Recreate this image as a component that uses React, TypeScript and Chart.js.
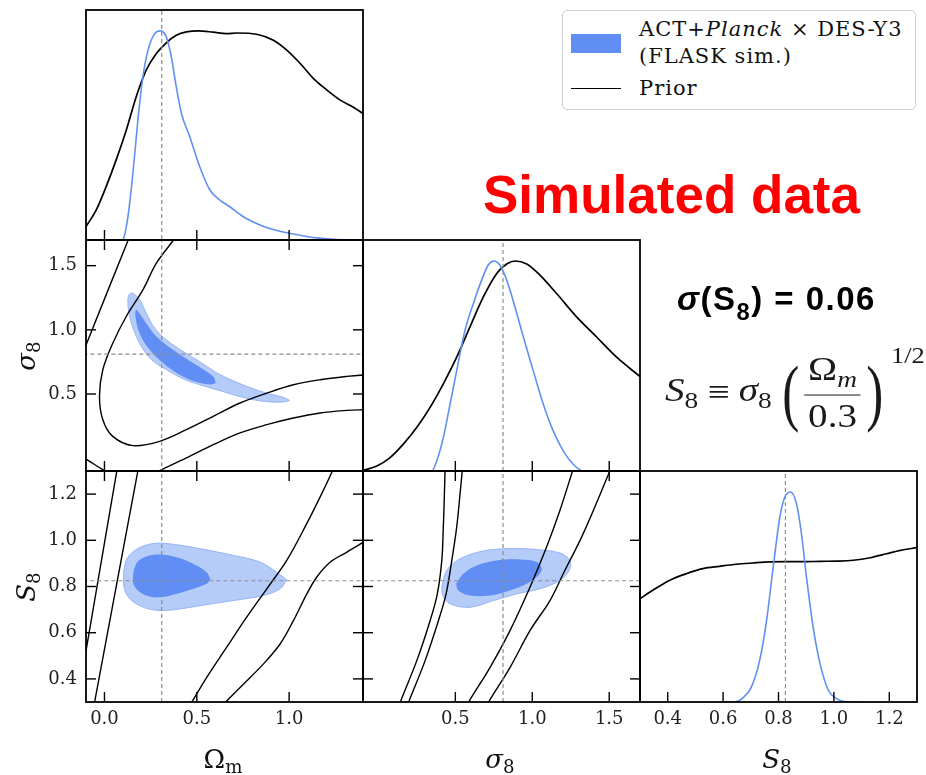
import React, { useEffect, useRef } from "react";
import { Chart, registerables } from "chart.js";

Chart.register(...registerables);

type P = [number, number];

// ---------- axes ----------
const OMEGA_RANGE: P = [-0.1, 1.4];
const SIGMA8_RANGE: P = [-0.1, 1.7];
const S8_RANGE: P = [0.3, 1.3];
const PDF_RANGE: P = [0, 1.1];
const OMEGA_TICKS = [0.0, 0.5, 1.0];
const SIGMA8_TICKS = [0.5, 1.0, 1.5];
const S8_TICKS = [0.4, 0.6, 0.8, 1.0, 1.2];
const FID_OMEGA = 0.31;
const FID_SIGMA8 = 0.81;
const FID_S8 = 0.825;

// ---------- 1D marginals (value, normalised density) ----------
const omegaSim: P[] = [
  [-0.1, 0], [0.09, 0], [0.1, 0.003], [0.127, 0.111], [0.154, 0.318], [0.181, 0.573], [0.208, 0.78],
  [0.236, 0.908], [0.272, 0.987], [0.304, 1.0], [0.335, 0.971], [0.362, 0.876], [0.389, 0.732],
  [0.417, 0.605], [0.462, 0.494], [0.516, 0.35], [0.571, 0.239], [0.625, 0.191], [0.679, 0.159],
  [0.752, 0.111], [0.842, 0.072], [0.933, 0.045], [1.023, 0.029], [1.15, 0.01], [1.24, 0.003], [1.4, 0],
];
const omegaPrior: P[] = [
  [-0.1, 0.064], [-0.045, 0.143], [0.009, 0.255], [0.063, 0.382], [0.118, 0.525], [0.172, 0.685],
  [0.226, 0.812], [0.281, 0.892], [0.335, 0.943], [0.389, 0.979], [0.444, 0.995], [0.507, 1.0],
  [0.589, 0.994], [0.661, 0.987], [0.716, 0.99], [0.824, 0.984], [0.915, 0.955], [0.987, 0.908],
  [1.06, 0.844], [1.132, 0.772], [1.205, 0.717], [1.277, 0.669], [1.35, 0.634], [1.4, 0.605],
];
const sigma8Sim: P[] = [
  [0.25, 0], [0.347, 0], [0.379, 0.048], [0.422, 0.159], [0.466, 0.319], [0.509, 0.478], [0.563, 0.67],
  [0.617, 0.797], [0.671, 0.909], [0.714, 0.981], [0.751, 1.0], [0.79, 0.98], [0.834, 0.909],
  [0.888, 0.78], [0.942, 0.638], [1.006, 0.478], [1.071, 0.319], [1.136, 0.191], [1.201, 0.096],
  [1.266, 0.032], [1.331, 0], [1.45, 0],
];
const sigma8Prior: P[] = [
  [-0.1, 0.003], [-0.01, 0.024], [0.076, 0.064], [0.162, 0.128], [0.249, 0.207], [0.336, 0.303],
  [0.422, 0.415], [0.509, 0.542], [0.595, 0.686], [0.682, 0.829], [0.769, 0.941], [0.834, 0.986],
  [0.888, 1.0], [0.964, 0.986], [1.05, 0.933], [1.158, 0.845], [1.288, 0.734], [1.418, 0.638],
  [1.548, 0.542], [1.7, 0.45],
];
const s8Sim: P[] = [
  [0.6, 0], [0.636, 0], [0.672, 0.02], [0.702, 0.071], [0.732, 0.198], [0.757, 0.389], [0.781, 0.643],
  [0.805, 0.881], [0.823, 0.976], [0.843, 1.0], [0.865, 0.944], [0.883, 0.8], [0.901, 0.595],
  [0.925, 0.357], [0.95, 0.183], [0.98, 0.056], [1.01, 0.016], [1.046, 0], [1.1, 0],
];
const s8Prior: P[] = [
  [0.3, 0.492], [0.346, 0.532], [0.406, 0.579], [0.467, 0.611], [0.527, 0.635], [0.587, 0.646],
  [0.648, 0.656], [0.708, 0.662], [0.768, 0.667], [0.829, 0.668], [0.889, 0.668], [0.95, 0.67],
  [1.01, 0.671], [1.07, 0.675], [1.131, 0.687], [1.19, 0.706], [1.24, 0.722], [1.3, 0.735],
];

// ---------- 2D: sigma8 vs Omega_m ----------
const omSigOuter: P[] = [
  [1.002, 0.45], [0.969, 0.438], [0.879, 0.44], [0.788, 0.461], [0.697, 0.495], [0.607, 0.534],
  [0.516, 0.572], [0.426, 0.618], [0.335, 0.69], [0.255, 0.767], [0.2, 0.87], [0.158, 1.0],
  [0.133, 1.13], [0.127, 1.233], [0.136, 1.28], [0.154, 1.285], [0.195, 1.225], [0.226, 1.13],
  [0.272, 1.013], [0.335, 0.922], [0.426, 0.831], [0.516, 0.752], [0.607, 0.666], [0.697, 0.603],
  [0.788, 0.55], [0.879, 0.506], [0.969, 0.474],
];
const omSigInner: P[] = [
  [0.603, 0.585], [0.571, 0.574], [0.48, 0.602], [0.389, 0.666], [0.317, 0.741], [0.245, 0.844],
  [0.19, 0.974], [0.168, 1.104], [0.172, 1.156], [0.226, 1.052], [0.281, 0.948], [0.371, 0.844],
  [0.48, 0.741], [0.589, 0.637],
];
const omSigPriorA: P[] = [[-0.15, 0.69], [-0.103, 0.87], [0.127, 1.694], [0.16, 1.81]];
const omSigPriorB: P[] = [
  [0.42, 1.79], [0.371, 1.694], [0.281, 1.519], [0.208, 1.311], [0.118, 1.104], [0.045, 0.896],
  [-0.009, 0.689], [-0.027, 0.481], [-0.009, 0.3], [0.045, 0.17], [0.154, 0.098], [0.299, 0.131],
  [0.444, 0.222], [0.589, 0.326], [0.734, 0.43], [0.879, 0.507], [1.023, 0.572], [1.168, 0.611],
  [1.313, 0.637], [1.404, 0.648], [1.45, 0.65],
];
const omSigPriorC: P[] = [
  [0.24, -0.137], [0.31, -0.089], [0.444, 0.002], [0.589, 0.105], [0.734, 0.197], [0.879, 0.261],
  [1.023, 0.313], [1.168, 0.352], [1.313, 0.372], [1.404, 0.378], [1.45, 0.38],
];
const omSigPriorD: P[] = [[-0.15, 0.03], [-0.103, -0.005], [-0.009, -0.09], [0.03, -0.12]];

// ---------- 2D: S8 vs Omega_m ----------
const omS8Outer: P[] = [
  [0.987, 0.829], [0.951, 0.79], [0.86, 0.761], [0.697, 0.739], [0.516, 0.717], [0.371, 0.699],
  [0.263, 0.699], [0.172, 0.725], [0.118, 0.768], [0.103, 0.826], [0.118, 0.913], [0.172, 0.96],
  [0.263, 0.986], [0.371, 0.983], [0.516, 0.964], [0.697, 0.935], [0.842, 0.906], [0.933, 0.862],
];
const omS8Inner: P[] = [
  [0.574, 0.833], [0.553, 0.812], [0.48, 0.79], [0.389, 0.768], [0.299, 0.753], [0.226, 0.761],
  [0.172, 0.79], [0.154, 0.826], [0.172, 0.899], [0.226, 0.93], [0.299, 0.939], [0.389, 0.927],
  [0.48, 0.899], [0.553, 0.862],
];
const omS8Prior1: P[] = [[-0.15, 0.288], [-0.103, 0.507], [0.067, 1.301], [0.08, 1.362]];
const omS8Prior2: P[] = [[-0.07, 0.23], [-0.054, 0.297], [0.181, 1.301], [0.2, 1.38]];
const omS8Prior3: P[] = [
  [0.44, 0.256], [0.471, 0.297], [0.553, 0.406], [0.661, 0.536], [0.77, 0.667], [0.879, 0.79],
  [0.987, 0.913], [1.096, 1.073], [1.168, 1.188], [1.232, 1.297], [1.25, 1.34],
];
const omS8Prior4: P[] = [
  [0.6, 0.255], [0.652, 0.297], [0.752, 0.377], [0.86, 0.464], [0.951, 0.551], [1.023, 0.652],
  [1.096, 0.768], [1.15, 0.841], [1.223, 0.906], [1.313, 0.949], [1.404, 0.993], [1.45, 1.02],
];

// ---------- 2D: S8 vs sigma8 ----------
const sigS8Outer: P[] = [
  [0.412, 0.797], [0.444, 0.87], [0.531, 0.92], [0.682, 0.954], [0.855, 0.964], [1.029, 0.96],
  [1.18, 0.945], [1.245, 0.913], [1.24, 0.87], [1.18, 0.826], [1.05, 0.79], [0.899, 0.768],
  [0.747, 0.739], [0.595, 0.71], [0.466, 0.725], [0.418, 0.761],
];
const sigS8Inner: P[] = [
  [0.505, 0.812], [0.552, 0.855], [0.639, 0.891], [0.769, 0.913], [0.92, 0.917], [1.029, 0.906],
  [1.061, 0.877], [1.039, 0.848], [0.964, 0.812], [0.855, 0.783], [0.725, 0.761], [0.595, 0.761],
  [0.519, 0.783],
];
const sigS8Prior1: P[] = [
  [0.12, 0.25], [0.141, 0.297], [0.249, 0.478], [0.336, 0.652], [0.383, 0.768], [0.412, 0.913],
  [0.422, 1.058], [0.429, 1.203], [0.433, 1.301], [0.434, 1.35],
];
const sigS8Prior2: P[] = [
  [0.17, 0.25], [0.195, 0.297], [0.303, 0.478], [0.39, 0.652], [0.44, 0.768], [0.477, 0.913],
  [0.509, 1.058], [0.531, 1.203], [0.545, 1.301], [0.552, 1.35],
];
const sigS8Prior3: P[] = [
  [0.55, 0.25], [0.584, 0.297], [0.725, 0.449], [0.855, 0.609], [0.985, 0.797], [1.093, 0.971],
  [1.18, 1.13], [1.262, 1.301], [1.285, 1.35],
];
const sigS8Prior4: P[] = [
  [0.68, 0.25], [0.714, 0.297], [0.855, 0.449], [0.985, 0.609], [1.115, 0.739], [1.201, 0.855],
  [1.331, 1.029], [1.505, 1.301], [1.53, 1.34],
];

// ---------- styling / layout ----------
const W = 926;
const H = 775;
const COLS = [86, 363, 640, 917];
const ROWS = [10, 240, 471, 702];
const Y_AXIS_W = 70;
const X_AXIS_H = 40;

const BLUE_LINE = "rgb(98,144,240)";
const INNER = "rgb(96,142,244)";
const OUTER = "rgb(181,203,248)";
const OUTER_EDGE = "rgb(150,180,246)";
const FID = "#8c8c8c";
const TICK_FONT = { family: "'DejaVu Serif', serif", size: 18 };

const xy = (pts: P[]) => pts.map(([x, y]) => ({ x, y }));

function curve(pts: P[], color: string, width: number, order: number, monotone = false) {
  return {
    data: xy(pts),
    showLine: true,
    borderColor: color,
    backgroundColor: color,
    borderWidth: width,
    pointRadius: 0,
    pointHoverRadius: 0,
    fill: false,
    tension: monotone ? 0 : 0.35,
    cubicInterpolationMode: monotone ? "monotone" : "default",
    order,
    clip: 0,
  };
}

function region(pts: P[], color: string, edge: string | null, order: number) {
  return {
    data: xy([...pts, pts[0]]),
    showLine: true,
    fill: "shape",
    backgroundColor: color,
    borderColor: edge || color,
    borderWidth: edge ? 1 : 0,
    pointRadius: 0,
    pointHoverRadius: 0,
    tension: 0.35,
    order,
    clip: 0,
  };
}

function vline(x: number, yr: P) {
  return {
    data: [{ x, y: yr[0] - 1 }, { x, y: yr[1] + 1 }],
    showLine: true,
    borderColor: FID,
    borderWidth: 1.2,
    borderDash: [4, 3],
    pointRadius: 0,
    fill: false,
    order: 0,
    clip: 0,
  };
}
function hline(y: number, xr: P) {
  return {
    data: [{ x: xr[0] - 1, y }, { x: xr[1] + 1, y }],
    showLine: true,
    borderColor: FID,
    borderWidth: 1.2,
    borderDash: [4, 3],
    pointRadius: 0,
    fill: false,
    order: 0,
    clip: 0,
  };
}

function scaleCfg(axis: "x" | "y", range: P, ticks: number[] | null, labels: boolean) {
  return {
    type: "linear",
    position: axis === "x" ? "bottom" : "left",
    min: range[0],
    max: range[1],
    grid: { display: false, drawTicks: false },
    border: { display: false },
    afterBuildTicks: (s: any) => {
      if (ticks) s.ticks = ticks.map((v) => ({ value: v }));
    },
    afterFit: (s: any) => {
      if (axis === "x") s.height = X_AXIS_H;
      else s.width = Y_AXIS_W;
    },
    ticks: {
      display: labels,
      autoSkip: false,
      maxRotation: 0,
      minRotation: 0,
      padding: axis === "x" ? 7 : 9,
      font: TICK_FONT,
      color: "#222",
      callback: (v: any) => Number(v).toFixed(1),
    },
  };
}

function framePlugin(sides: string[]) {
  return {
    id: "frame",
    afterDatasetsDraw(chart: any) {
      const { ctx, chartArea: a, scales } = chart;
      ctx.save();
      ctx.strokeStyle = "#000";
      ctx.lineWidth = 1.8;
      ctx.setLineDash([]);
      ctx.strokeRect(a.left, a.top, a.right - a.left, a.bottom - a.top);
      ctx.lineWidth = 1.4;
      const L = 10;
      for (const side of sides) {
        const sc = side === "top" || side === "bottom" ? scales.x : scales.y;
        for (const t of sc.ticks) {
          const p = sc.getPixelForValue(t.value);
          ctx.beginPath();
          if (side === "bottom") { ctx.moveTo(p, a.bottom); ctx.lineTo(p, a.bottom - L); }
          if (side === "top") { ctx.moveTo(p, a.top); ctx.lineTo(p, a.top + L); }
          if (side === "left") { ctx.moveTo(a.left, p); ctx.lineTo(a.left + L, p); }
          if (side === "right") { ctx.moveTo(a.right, p); ctx.lineTo(a.right - L, p); }
          ctx.stroke();
        }
      }
      ctx.restore();
    },
  };
}

interface PanelSpec {
  col: number;
  row: number;
  x: P; xTicks: number[]; xLabels: boolean;
  y: P; yTicks: number[] | null; yLabels: boolean;
  sides: string[];
  datasets: any[];
}

const ALL = ["top", "bottom", "left", "right"];

const PANELS: PanelSpec[] = [
  {
    col: 0, row: 0, x: OMEGA_RANGE, xTicks: OMEGA_TICKS, xLabels: false, y: PDF_RANGE, yTicks: null, yLabels: false,
    sides: ["bottom"],
    datasets: [vline(FID_OMEGA, PDF_RANGE), curve(omegaPrior, "#000", 1.7, 2, true), curve(omegaSim, BLUE_LINE, 1.6, 1, true)],
  },
  {
    col: 0, row: 1, x: OMEGA_RANGE, xTicks: OMEGA_TICKS, xLabels: false, y: SIGMA8_RANGE, yTicks: SIGMA8_TICKS, yLabels: true,
    sides: ALL,
    datasets: [
      vline(FID_OMEGA, SIGMA8_RANGE), hline(FID_SIGMA8, OMEGA_RANGE),
      curve(omSigPriorA, "#000", 1.4, 1), curve(omSigPriorB, "#000", 1.4, 1),
      curve(omSigPriorC, "#000", 1.4, 1), curve(omSigPriorD, "#000", 1.4, 1),
      region(omSigInner, INNER, null, 2), region(omSigOuter, OUTER, OUTER_EDGE, 3),
    ],
  },
  {
    col: 1, row: 1, x: SIGMA8_RANGE, xTicks: SIGMA8_TICKS, xLabels: false, y: PDF_RANGE, yTicks: null, yLabels: false,
    sides: ["bottom"],
    datasets: [vline(FID_SIGMA8, PDF_RANGE), curve(sigma8Prior, "#000", 1.7, 2, true), curve(sigma8Sim, BLUE_LINE, 1.6, 1, true)],
  },
  {
    col: 0, row: 2, x: OMEGA_RANGE, xTicks: OMEGA_TICKS, xLabels: true, y: S8_RANGE, yTicks: S8_TICKS, yLabels: true,
    sides: ALL,
    datasets: [
      vline(FID_OMEGA, S8_RANGE), hline(FID_S8, OMEGA_RANGE),
      curve(omS8Prior1, "#000", 1.4, 1), curve(omS8Prior2, "#000", 1.4, 1),
      curve(omS8Prior3, "#000", 1.4, 1), curve(omS8Prior4, "#000", 1.4, 1),
      region(omS8Inner, INNER, null, 2), region(omS8Outer, OUTER, OUTER_EDGE, 3),
    ],
  },
  {
    col: 1, row: 2, x: SIGMA8_RANGE, xTicks: SIGMA8_TICKS, xLabels: true, y: S8_RANGE, yTicks: S8_TICKS, yLabels: false,
    sides: ALL,
    datasets: [
      vline(FID_SIGMA8, S8_RANGE), hline(FID_S8, SIGMA8_RANGE),
      curve(sigS8Prior1, "#000", 1.4, 1), curve(sigS8Prior2, "#000", 1.4, 1),
      curve(sigS8Prior3, "#000", 1.4, 1), curve(sigS8Prior4, "#000", 1.4, 1),
      region(sigS8Inner, INNER, null, 2), region(sigS8Outer, OUTER, OUTER_EDGE, 3),
    ],
  },
  {
    col: 2, row: 2, x: S8_RANGE, xTicks: S8_TICKS, xLabels: true, y: PDF_RANGE, yTicks: null, yLabels: false,
    sides: ["bottom"],
    datasets: [vline(FID_S8, PDF_RANGE), curve(s8Prior, "#000", 1.7, 2, true), curve(s8Sim, BLUE_LINE, 1.6, 1, true)],
  },
];

function Panel({ spec }: { spec: PanelSpec }) {
  const ref = useRef<HTMLCanvasElement>(null);
  useEffect(() => {
    const canvas = ref.current!;
    const chart = new Chart(canvas, {
      type: "scatter",
      data: { datasets: spec.datasets as any },
      options: {
        responsive: false,
        animation: false,
        devicePixelRatio: 1,
        events: [],
        layout: {
          padding: {
            left: COLS[spec.col] - Y_AXIS_W,
            right: W - COLS[spec.col + 1],
            top: ROWS[spec.row],
            bottom: H - ROWS[spec.row + 1] - X_AXIS_H,
          },
        },
        plugins: { legend: { display: false }, tooltip: { enabled: false } },
        scales: {
          x: scaleCfg("x", spec.x, spec.xTicks, spec.xLabels) as any,
          y: scaleCfg("y", spec.y, spec.yTicks, spec.yLabels) as any,
        },
      } as any,
      plugins: [framePlugin(spec.sides)],
    });
    return () => chart.destroy();
  }, [spec]);
  return (
    <canvas
      ref={ref}
      width={W}
      height={H}
      style={{ position: "absolute", left: 0, top: 0, width: W, height: H }}
    />
  );
}

const Txt = ({ x, y, rot = 0, style, children }: any) => (
  <div
    style={{
      position: "absolute",
      left: x,
      top: y,
      transform: `translate(-50%,-50%) rotate(${rot}deg)`,
      whiteSpace: "nowrap",
      lineHeight: 1,
      ...style,
    }}
  >
    {children}
  </div>
);

const serif = "'DejaVu Serif', serif";
const sub = { fontSize: "0.7em", verticalAlign: "-0.3em" } as const;

export default function App() {
  return (
    <div style={{ position: "absolute", left: 0, top: 0, width: W, height: H, background: "#fff", overflow: "hidden" }}>
      {PANELS.map((p, i) => (
        <Panel key={i} spec={p} />
      ))}

      {/* axis titles */}
      <Txt x={223} y={761} style={{ fontFamily: serif, fontSize: 26, color: "#111" }}>
        Ω<span style={sub}>m</span>
      </Txt>
      <Txt x={500} y={761} style={{ fontFamily: serif, fontSize: 26, color: "#111" }}>
        <i>σ</i><span style={sub}>8</span>
      </Txt>
      <Txt x={777} y={761} style={{ fontFamily: serif, fontSize: 26, color: "#111" }}>
        <i>S</i><span style={sub}>8</span>
      </Txt>
      <Txt x={28} y={356} rot={-90} style={{ fontFamily: serif, fontSize: 26, color: "#111" }}>
        <i>σ</i><span style={sub}>8</span>
      </Txt>
      <Txt x={28} y={587} rot={-90} style={{ fontFamily: serif, fontSize: 26, color: "#111" }}>
        <i>S</i><span style={sub}>8</span>
      </Txt>

      {/* legend */}
      <div
        style={{
          position: "absolute", left: 562, top: 10, width: 352, height: 98,
          border: "1.5px solid #cfcfcf", borderRadius: 5, background: "#fff",
          fontFamily: serif, fontSize: 21, color: "#111",
        }}
      >
        <div style={{ position: "absolute", left: 8, top: 23, width: 50, height: 19, background: INNER }} />
        <div style={{ position: "absolute", left: 76, top: 8, lineHeight: 1, whiteSpace: "nowrap", letterSpacing: 1 }}>
          ACT+<i>Planck</i> × DES-Y3
        </div>
        <div style={{ position: "absolute", left: 76, top: 35, lineHeight: 1, whiteSpace: "nowrap", letterSpacing: 1 }}>
          (FLASK sim.)
        </div>
        <div style={{ position: "absolute", left: 8, top: 77, width: 50, height: 0, borderTop: "1.6px solid #000" }} />
        <div style={{ position: "absolute", left: 76, top: 67, lineHeight: 1, whiteSpace: "nowrap", letterSpacing: 1 }}>
          Prior
        </div>
      </div>

      {/* annotations */}
      <div
        style={{
          position: "absolute", left: 483, top: 168, lineHeight: 1, whiteSpace: "nowrap",
          fontFamily: "'Liberation Sans', Arial, sans-serif", fontWeight: 700, fontSize: 53, color: "#ff0000",
        }}
      >
        Simulated data
      </div>
      <div
        style={{
          position: "absolute", left: 677, top: 282, lineHeight: 1, whiteSpace: "nowrap",
          fontFamily: "'Liberation Sans', Arial, sans-serif", fontWeight: 700, fontSize: 33, color: "#000",
          letterSpacing: 1.5,
        }}
      >
        <i>σ</i>(S<span style={{ fontSize: "0.72em", position: "relative", top: "0.4em" }}>8</span>) = 0.06
      </div>
      <div
        style={{
          position: "absolute", left: 665, top: 392, transform: "translateY(-50%) scaleX(1.15)", transformOrigin: "left center",
          display: "flex", alignItems: "center", whiteSpace: "nowrap", lineHeight: 1,
          fontFamily: "'Liberation Serif', serif", fontSize: 34, color: "#1a1a1a",
        }}
      >
        <span><i>S</i><span style={sub}>8</span></span>
        <span style={{ margin: "0 8px" }}>≡</span>
        <span><i>σ</i><span style={sub}>8</span></span>
        <span style={{ fontSize: 74, fontWeight: 300, marginLeft: 4, transform: "scaleX(0.6)", display: "inline-block" }}>(</span>
        <span style={{ display: "inline-flex", flexDirection: "column", alignItems: "center" }}>
          <span style={{ borderBottom: "1.5px solid #1a1a1a", padding: "0 3px 3px 3px" }}>
            Ω<span style={sub}><i>m</i></span>
          </span>
          <span style={{ paddingTop: 3 }}>0.3</span>
        </span>
        <span style={{ fontSize: 74, fontWeight: 300, transform: "scaleX(0.6)", display: "inline-block" }}>)</span>
        <span style={{ fontSize: 23, alignSelf: "flex-start", marginTop: -8, marginLeft: 2 }}>1/2</span>
      </div>
    </div>
  );
}
